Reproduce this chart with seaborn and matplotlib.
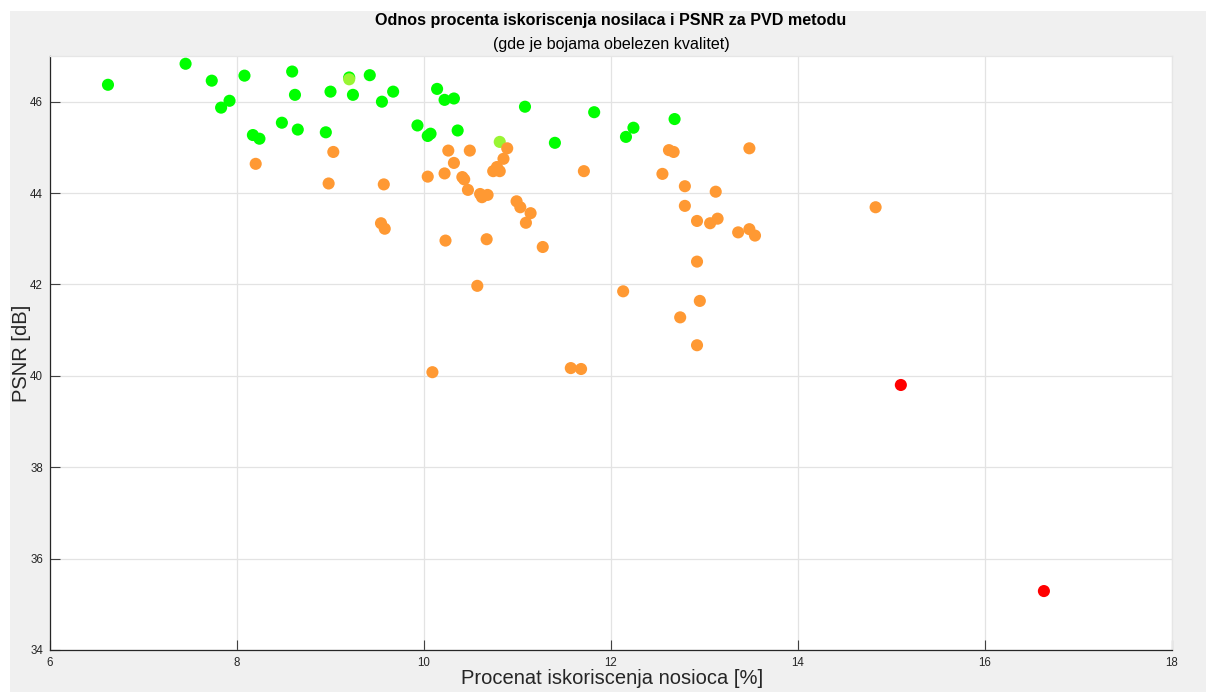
import matplotlib
matplotlib.use("Agg")
import matplotlib.pyplot as plt
import seaborn as sns
import pandas as pd
from matplotlib.patches import Rectangle

# ---- data ----
green_x = [6.62, 7.45, 7.73, 8.08, 7.83, 7.92, 8.17, 8.24, 8.48, 8.59, 8.62, 8.65,
           8.95, 9.00, 9.20, 9.24, 9.42, 9.55, 9.67, 9.93, 10.04, 10.07, 10.14, 10.22,
           10.32, 10.36, 11.08, 11.40, 11.82, 12.16, 12.24, 12.68]
green_y = [46.37, 46.83, 46.46, 46.57, 45.87, 46.02, 45.27, 45.19, 45.54, 46.66, 46.15, 45.39,
           45.33, 46.22, 46.53, 46.15, 46.58, 46.00, 46.22, 45.48, 45.25, 45.30, 46.28, 46.04,
           46.07, 45.37, 45.89, 45.10, 45.77, 45.23, 45.43, 45.62]

lightgreen_x = [9.20, 10.81]
lightgreen_y = [46.49, 45.12]

orange_x = [8.20, 9.03, 8.98, 9.57, 9.54, 9.58, 10.04, 10.26, 10.49, 10.32, 10.22, 10.41,
            10.43, 10.47, 10.89, 10.85, 10.78, 10.74, 10.81, 10.60, 10.62, 10.68, 10.99, 11.03,
            11.14, 11.09, 11.71, 11.27, 10.23, 10.67, 10.57, 12.62, 12.67, 13.48, 12.55, 12.79,
            13.12, 12.79, 12.92, 13.06, 13.14, 13.36, 13.48, 13.54, 12.92, 12.13, 12.95, 12.74,
            10.09, 11.57, 11.68, 12.92, 14.83]
orange_y = [44.64, 44.90, 44.21, 44.19, 43.34, 43.22, 44.36, 44.93, 44.93, 44.66, 44.43, 44.35,
            44.30, 44.07, 44.98, 44.75, 44.57, 44.48, 44.48, 43.98, 43.91, 43.96, 43.82, 43.69,
            43.56, 43.35, 44.48, 42.82, 42.96, 42.99, 41.97, 44.94, 44.90, 44.98, 44.42, 44.15,
            44.03, 43.72, 43.39, 43.34, 43.44, 43.14, 43.21, 43.07, 42.50, 41.85, 41.64, 41.28,
            40.08, 40.17, 40.15, 40.67, 43.69]

red_x = [15.10, 16.63]
red_y = [39.80, 35.29]

quality_levels = ["odlican", "vrlo dobar", "dobar", "los"]
quality_colors = ["#00ff00", "#99f533", "#ff9933", "#ff0000"]

title = "Odnos procenta iskoriscenja nosilaca i PSNR za PVD metodu"
subtitle = "(gde je bojama obelezen kvalitet)"
xlabel = "Procenat iskoriscenja nosioca [%]"
ylabel = "PSNR [dB]"
xticks = [6, 8, 10, 12, 14, 16, 18]
yticks = [34, 36, 38, 40, 42, 44, 46]

# ---- build table ----
rows = []
for lvl, xs, ys in zip(quality_levels,
                       [green_x, lightgreen_x, orange_x, red_x],
                       [green_y, lightgreen_y, orange_y, red_y]):
    for x, y in zip(xs, ys):
        rows.append({"iskoriscenje": x, "PSNR": y, "kvalitet": lvl})
df = pd.DataFrame(rows)

sns.set_theme(style="white")
plt.rcParams["font.family"] = ["Liberation Sans", "DejaVu Sans"]

W, H = 1206, 692
fig = plt.figure(figsize=(W / 100, H / 100), dpi=100)
fig.patch.set_facecolor("white")
fig.patches.append(Rectangle((10 / W, 0), 1, 1 - 11 / H, transform=fig.transFigure,
                             facecolor="#f0f0f0", edgecolor="none", zorder=-10))

ax = fig.add_axes([50 / W, 1 - 650 / H, (1172 - 50) / W, (650 - 56) / H])
ax.set_facecolor("white")

sns.scatterplot(data=df, x="iskoriscenje", y="PSNR", hue="kvalitet",
                hue_order=quality_levels,
                palette=dict(zip(quality_levels, quality_colors)),
                s=76, linewidth=0, legend=False, ax=ax, zorder=3)

ax.set_xlim(6, 18)
ax.set_ylim(34, 47)
ax.set_xticks(xticks)
ax.set_yticks(yticks)
ax.set_xticklabels([str(t) for t in xticks], fontsize=8.3, color="#262626")
ax.set_yticklabels([str(t) for t in yticks], fontsize=8.3, color="#262626")
ax.grid(True, color="#e3e3e3", linewidth=0.9, zorder=0)
ax.set_axisbelow(True)
ax.tick_params(direction="in", length=7, width=0.8, color="#404040", pad=5,
               left=True, bottom=True, top=False, right=False)

for side in ["left", "bottom"]:
    ax.spines[side].set_color("#262626")
    ax.spines[side].set_linewidth(0.9)
for side in ["top", "right"]:
    ax.spines[side].set_color("#e6e6e6")
    ax.spines[side].set_linewidth(0.9)

ax.set_xlabel("")
ax.set_ylabel("")
fig.text(612 / W, 1 - 679 / H, xlabel, ha="center", va="center", fontsize=14.5, color="#262626")
fig.text(22 / W, 1 - 353 / H, ylabel, ha="center", va="center", rotation=90,
         fontsize=14.5, color="#262626")
fig.text(611 / W, 1 - 21 / H, title, ha="center", va="center", fontsize=11.6,
         fontweight="bold", color="black")
fig.text(611 / W, 1 - 45 / H, subtitle, ha="center", va="center", fontsize=11.6, color="black")

fig.savefig("out.png", dpi=100, facecolor=fig.get_facecolor())
